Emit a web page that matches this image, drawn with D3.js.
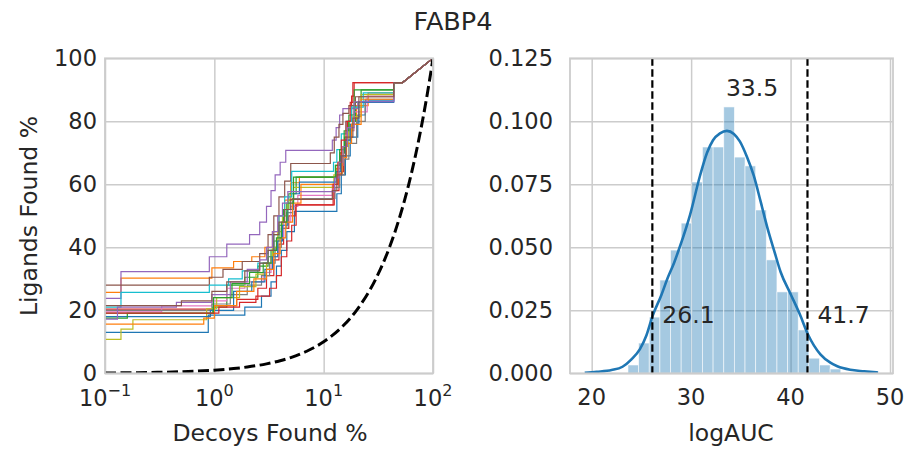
<!DOCTYPE html>
<html>
<head>
<meta charset="utf-8">
<script src="https://cdn.jsdelivr.net/npm/d3@7"></script>
<style>
  body { margin: 0; background: #fff; }
  text { font-family: "DejaVu Sans", sans-serif; fill: #262626; }
</style>
</head>
<body>
<svg id="chart" width="907" height="449"></svg>
<script>
// ---- data ----
const title = "FABP4"

// left panel: ligands found vs decoys found, one step curve per run
const stepX = [
  [0.1, 0.88, 1.9, 2.7, 3.3, 3.7, 4.1, 4.6, 5.4, 13.2, 14.5, 15.8, 17.5, 20.5, 24.0, 43.7],
  [0.1, 0.14, 0.95, 1.5, 2.2, 2.9, 3.4, 3.9, 4.4, 5.0, 6.0, 13.0, 14.2, 16.0, 17.5, 20.0, 25.5, 43.7],
  [0.1, 0.97, 1.3, 1.9, 2.5, 3.1, 3.5, 3.9, 4.3, 4.8, 5.6, 12.8, 14.0, 15.5, 17.0, 19.5, 22.0, 43.7],
  [0.1, 1.0, 1.6, 2.5, 3.0, 3.5, 3.9, 4.3, 4.8, 5.5, 12.5, 13.8, 15.2, 16.5, 18.0, 19.0, 43.7],
  [0.1, 0.14, 0.9, 1.3, 2.1, 2.6, 3.0, 3.3, 3.6, 4.0, 4.5, 12.0, 13.0, 14.0, 15.0, 20.5, 43.7],
  [0.1, 0.9, 1.2, 1.8, 2.6, 3.1, 3.5, 3.9, 4.4, 5.0, 11.5, 12.5, 13.8, 15.0, 17.0, 19.5, 43.7],
  [0.1, 0.33, 0.95, 1.3, 1.9, 2.8, 3.3, 3.8, 4.3, 5.0, 5.8, 12.0, 13.5, 15.0, 16.5, 19.0, 25.0, 43.7],
  [0.1, 0.95, 1.4, 2.0, 2.7, 3.2, 3.6, 4.1, 4.6, 5.2, 12.7, 14.0, 15.5, 17.0, 20.0, 24.0, 43.7],
  [0.1, 0.14, 0.18, 0.85, 1.05, 1.7, 2.4, 3.0, 3.4, 3.8, 4.2, 4.7, 5.3, 12.4, 13.6, 15.0, 16.8, 18.5, 22.0, 43.7],
  [0.1, 0.14, 0.9, 1.35, 1.8, 2.5, 3.1, 3.5, 3.9, 4.4, 5.1, 12.3, 13.2, 14.5, 16.0, 18.0, 23.0, 43.7],
  [0.1, 0.92, 1.5, 2.2, 2.9, 3.4, 3.8, 4.2, 4.7, 5.3, 6.0, 13.0, 14.2, 15.8, 17.5, 21.0, 43.7],
  [0.1, 0.8, 1.0, 1.6, 2.3, 3.0, 3.5, 4.0, 4.5, 5.2, 6.2, 13.6, 14.8, 16.2, 18.0, 22.0, 43.7],
  [0.1, 0.16, 0.98, 1.45, 2.1, 2.8, 3.3, 3.7, 4.1, 4.6, 5.3, 12.9, 14.0, 15.4, 17.0, 19.0, 43.7],
  [0.1, 1.1, 1.7, 2.4, 3.2, 3.7, 4.1, 4.6, 5.1, 5.6, 12.2, 13.5, 14.5, 16.0, 17.5, 18.5, 43.7],
  [0.1, 0.13, 0.45, 0.95, 1.4, 2.0, 2.6, 3.0, 3.4, 3.8, 4.2, 4.7, 12.6, 13.8, 15.0, 16.5, 19.0, 43.7],
  [0.1, 0.5, 0.95, 1.3, 1.9, 2.6, 3.1, 3.5, 3.9, 4.4, 5.0, 12.0, 13.2, 14.6, 16.0, 18.5, 21.0, 43.7]
]
const stepY = [
  [13.0, 18.5, 21.0, 24.5, 29.0, 34.0, 39.0, 45.0, 51.4, 57.0, 63.0, 69.0, 75.0, 82.0, 86.5, 92.3],
  [25.7, 30.2, 33.5, 35.5, 37.0, 40.0, 45.0, 50.0, 55.0, 60.5, 62.3, 65.0, 70.0, 74.0, 79.0, 85.0, 89.0, 92.3],
  [19.1, 21.0, 28.0, 30.5, 34.0, 37.0, 42.0, 47.0, 52.0, 57.0, 62.3, 66.0, 70.0, 75.0, 80.0, 86.0, 90.0, 92.3],
  [20.4, 21.5, 23.5, 27.0, 31.0, 36.0, 41.0, 46.0, 50.0, 53.5, 58.0, 64.0, 72.0, 80.0, 88.0, 92.3, 92.3],
  [23.8, 32.3, 37.0, 41.0, 44.0, 48.0, 53.0, 58.0, 63.0, 67.0, 70.8, 74.0, 78.0, 82.0, 84.0, 86.2, 92.3],
  [28.0, 30.5, 33.0, 35.5, 38.0, 44.0, 50.0, 56.0, 61.0, 66.6, 70.0, 75.0, 79.0, 82.5, 85.0, 87.8, 92.3],
  [19.5, 21.4, 23.0, 27.0, 29.0, 32.0, 37.0, 43.0, 48.0, 53.0, 56.5, 60.0, 66.0, 72.0, 77.0, 83.0, 88.0, 92.3],
  [20.0, 22.0, 25.0, 28.0, 31.0, 35.0, 40.0, 46.0, 51.0, 55.5, 59.0, 63.0, 68.0, 73.0, 80.0, 87.0, 92.3],
  [10.8, 14.0, 17.0, 20.5, 24.0, 27.5, 31.5, 35.0, 40.0, 45.0, 50.0, 55.0, 59.0, 63.0, 67.0, 72.0, 77.0, 81.5, 88.5, 92.3],
  [21.0, 25.7, 28.0, 30.0, 32.5, 35.0, 39.0, 44.0, 50.0, 56.0, 64.1, 67.0, 71.0, 76.0, 80.0, 84.5, 89.0, 92.3],
  [18.0, 20.0, 26.0, 29.0, 33.0, 37.0, 42.0, 47.0, 52.0, 57.0, 60.7, 64.0, 69.0, 74.0, 79.0, 86.0, 92.3],
  [15.6, 17.5, 21.5, 26.0, 30.0, 33.0, 38.0, 43.0, 48.0, 54.0, 60.0, 63.5, 68.5, 73.0, 79.0, 87.0, 92.3],
  [17.5, 19.0, 24.0, 28.5, 32.0, 35.0, 39.0, 43.0, 48.0, 54.0, 62.3, 66.0, 71.0, 77.0, 82.0, 90.0, 92.3],
  [19.1, 21.0, 22.5, 24.5, 27.0, 31.0, 37.0, 42.0, 47.0, 53.5, 60.0, 67.0, 74.0, 80.0, 86.0, 92.3, 92.3],
  [17.2, 21.0, 22.5, 25.0, 29.0, 33.0, 36.0, 40.0, 45.0, 50.0, 54.0, 57.7, 62.0, 67.0, 72.0, 78.0, 86.2, 92.3],
  [21.5, 23.0, 26.0, 29.0, 32.5, 35.0, 39.0, 44.0, 48.0, 52.0, 55.2, 58.0, 63.0, 69.0, 75.0, 81.0, 87.8, 92.3]
]
// shared last stretch of every run
const tailX = [43.7, 52.7, 100]
const tailY = [92.3, 92.3, 100]
// random-selection reference (dashed)
const randomX = [0.1, 0.2, 0.3, 0.5, 0.7, 1, 1.5, 2, 3, 4, 5, 7, 10, 15, 20, 30, 40, 50, 60, 70, 80, 90, 100]
const randomY = [0.1, 0.2, 0.3, 0.5, 0.7, 1, 1.5, 2, 3, 4, 5, 7, 10, 15, 20, 30, 40, 50, 60, 70, 80, 90, 100]
const leftXTicks = [-1, 0, 1, 2]
const leftYTicks = [0, 20, 40, 60, 80, 100]

// right panel: logAUC distribution
const binLeft = [23.65, 24.72, 25.79, 26.86, 27.93, 29.0, 30.07, 31.14, 32.21, 33.28,
                 34.35, 35.42, 36.49, 37.56, 38.63, 39.7, 40.77, 41.84, 42.91, 43.98]
const binWidth = 1.07
const binDensity = [0.0033, 0.0120, 0.0223, 0.0370, 0.0489, 0.0596, 0.0759, 0.0898, 0.0898, 0.1057,
                    0.0858, 0.0823, 0.0648, 0.0450, 0.0323, 0.0323, 0.0172, 0.0060, 0.0033, 0.0017]
const kdeX = [19.3, 20.5, 22.0, 23.1, 24.0, 24.85, 25.5, 26.1, 27.0, 27.6, 28.3, 28.9, 29.9, 30.9, 31.6, 32.2,
              32.9, 33.6, 34.3, 34.9, 35.6, 36.3, 37.0, 37.7, 38.4, 39.0, 40.0, 40.9, 41.8, 43.0, 44.0, 44.7,
              46.0, 47.4, 48.8]
const kdeY = [0.0002, 0.0006, 0.0013, 0.0026, 0.0055, 0.0096, 0.0150, 0.0225, 0.0310, 0.0374, 0.0440, 0.0506,
              0.0630, 0.0785, 0.0875, 0.0925, 0.0952, 0.0962, 0.0950, 0.0920, 0.0860, 0.0784, 0.0680, 0.0573,
              0.0480, 0.0402, 0.0315, 0.0237, 0.0150, 0.0075, 0.0042, 0.0028, 0.0014, 0.0008, 0.0003]
const cutoffs = [26.1, 41.7]
const meanValue = 33.5
const rightXTicks = [20, 30, 40, 50]
const rightYTicks = [0, 0.025, 0.05, 0.075, 0.1, 0.125]

const palette = ["#1f77b4", "#ff7f0e", "#2ca02c", "#d62728", "#9467bd",
                 "#8c564b", "#e377c2", "#7f7f7f", "#bcbd22", "#17becf"]

// ---- drawing ----
const svg = d3.select("#chart")
const plotTop = 58.3, plotBottom = 373.3
const gridColor = "#cccccc"
const tickSize = 22.5, labelSize = 23.5

svg.append("text")
  .attr("x", 453).attr("y", 30)
  .attr("text-anchor", "middle")
  .attr("font-size", 25.5)
  .text(title)

// left panel
const xL = d3.scaleLog().domain([0.1, 100]).range([105, 433])
const yL = d3.scaleLinear().domain([0, 100]).range([plotBottom, plotTop])

let left = svg.append("g")
left.append("defs").append("clipPath").attr("id", "clipL")
  .append("rect").attr("x", 105).attr("y", plotTop).attr("width", 328).attr("height", plotBottom - plotTop)

left.append("g")
  .attr("transform", "translate(0," + plotBottom + ")")
  .call(d3.axisBottom(xL).tickValues(leftXTicks.map(p => Math.pow(10, p))).tickSize(-(plotBottom - plotTop)).tickFormat(""))
  .call(g => g.select(".domain").remove())
  .call(g => g.selectAll("line").attr("stroke", gridColor).attr("stroke-width", 1.5))
left.append("g")
  .attr("transform", "translate(105,0)")
  .call(d3.axisLeft(yL).tickValues(leftYTicks).tickSize(-328).tickFormat(""))
  .call(g => g.select(".domain").remove())
  .call(g => g.selectAll("line").attr("stroke", gridColor).attr("stroke-width", 1.5))

const stepLine = d3.line().x(d => xL(d[0])).y(d => yL(d[1])).curve(d3.curveStepAfter)
const plainLine = d3.line().x(d => xL(d[0])).y(d => yL(d[1]))

let runs = left.append("g").attr("clip-path", "url(#clipL)")
stepX.forEach((xs, i) => {
  let pts = xs.map((v, j) => [v, stepY[i][j]])
  let tail = tailX.map((v, j) => [v, tailY[j]])
  runs.append("path")
    .attr("d", stepLine(pts) + plainLine(tail))
    .attr("fill", "none")
    .attr("stroke", palette[i % palette.length])
    .attr("stroke-width", 1.2)
})

runs.append("path")
  .attr("d", d3.line().x(d => xL(d[0])).y(d => yL(d[1])).curve(d3.curveMonotoneX)(randomX.map((v, j) => [v, randomY[j]])))
  .attr("fill", "none")
  .attr("stroke", "black")
  .attr("stroke-width", 3)
  .attr("stroke-dasharray", "11,4.5")

left.append("rect")
  .attr("x", 105).attr("y", plotTop).attr("width", 328).attr("height", plotBottom - plotTop)
  .attr("fill", "none").attr("stroke", gridColor).attr("stroke-width", 1.8)

leftYTicks.forEach(t => {
  left.append("text").attr("x", 97).attr("y", yL(t)).attr("dy", "0.36em")
    .attr("text-anchor", "end").attr("font-size", tickSize).text(t)
})
leftXTicks.forEach(p => {
  let tx = left.append("text").attr("x", xL(Math.pow(10, p))).attr("y", 406)
    .attr("text-anchor", "middle").attr("font-size", tickSize)
  tx.append("tspan").text("10")
  tx.append("tspan").attr("dy", -10).attr("font-size", 16).text(p < 0 ? "\u2212" + (-p) : p)
})
left.append("text").attr("x", 270).attr("y", 441).attr("text-anchor", "middle")
  .attr("font-size", labelSize).text("Decoys Found %")
left.append("text").attr("transform", "translate(37,216) rotate(-90)").attr("text-anchor", "middle")
  .attr("font-size", labelSize).text("Ligands Found %")

// right panel
const xR = d3.scaleLinear().domain([17.82, 50.3]).range([570, 893])
const yR = d3.scaleLinear().domain([0, 0.125]).range([plotBottom, plotTop])

let right = svg.append("g")
right.append("defs").append("clipPath").attr("id", "clipR")
  .append("rect").attr("x", 570).attr("y", plotTop).attr("width", 323).attr("height", plotBottom - plotTop)

right.append("g")
  .attr("transform", "translate(0," + plotBottom + ")")
  .call(d3.axisBottom(xR).tickValues(rightXTicks).tickSize(-(plotBottom - plotTop)).tickFormat(""))
  .call(g => g.select(".domain").remove())
  .call(g => g.selectAll("line").attr("stroke", gridColor).attr("stroke-width", 1.5))
right.append("g")
  .attr("transform", "translate(570,0)")
  .call(d3.axisLeft(yR).tickValues(rightYTicks).tickSize(-323).tickFormat(""))
  .call(g => g.select(".domain").remove())
  .call(g => g.selectAll("line").attr("stroke", gridColor).attr("stroke-width", 1.5))

let plotR = right.append("g").attr("clip-path", "url(#clipR)")
plotR.selectAll(".bar")
  .data(binLeft.map((v, i) => ({ x0: v, h: binDensity[i] })))
  .enter()
  .append("rect")
  .attr("class", "bar")
  .attr("x", d => xR(d.x0))
  .attr("y", d => yR(d.h))
  .attr("width", d => xR(d.x0 + binWidth) - xR(d.x0))
  .attr("height", d => yR(0) - yR(d.h))
  .attr("fill", "#1f77b4")
  .attr("fill-opacity", 0.4)
  .attr("stroke", "white")
  .attr("stroke-opacity", 0.7)
  .attr("stroke-width", 0.8)

plotR.append("path")
  .attr("d", d3.line().x(d => xR(d[0])).y(d => yR(d[1])).curve(d3.curveMonotoneX)(kdeX.map((v, j) => [v, kdeY[j]])))
  .attr("fill", "none")
  .attr("stroke", "#1f77b4")
  .attr("stroke-width", 2.6)

cutoffs.forEach(c => {
  plotR.append("line")
    .attr("x1", xR(c)).attr("x2", xR(c))
    .attr("y1", plotTop).attr("y2", plotBottom)
    .attr("stroke", "black").attr("stroke-width", 2.2)
    .attr("stroke-dasharray", "7.5,3.5")
  right.append("text").attr("x", xR(c + 1)).attr("y", yR(0.02))
    .attr("font-size", labelSize).text(c.toFixed(1))
})
right.append("text").attr("x", xR(meanValue)).attr("y", yR(0.11))
  .attr("font-size", labelSize).text(meanValue.toFixed(1))

right.append("rect")
  .attr("x", 570).attr("y", plotTop).attr("width", 323).attr("height", plotBottom - plotTop)
  .attr("fill", "none").attr("stroke", gridColor).attr("stroke-width", 1.8)

rightYTicks.forEach(t => {
  right.append("text").attr("x", 553).attr("y", yR(t)).attr("dy", "0.36em")
    .attr("text-anchor", "end").attr("font-size", tickSize).text(t.toFixed(3))
})
rightXTicks.forEach(t => {
  right.append("text").attr("x", xR(t)).attr("y", 405)
    .attr("text-anchor", "middle").attr("font-size", tickSize).text(t)
})
right.append("text").attr("x", 731).attr("y", 441).attr("text-anchor", "middle")
  .attr("font-size", labelSize).text("logAUC")
</script>
</body>
</html>
